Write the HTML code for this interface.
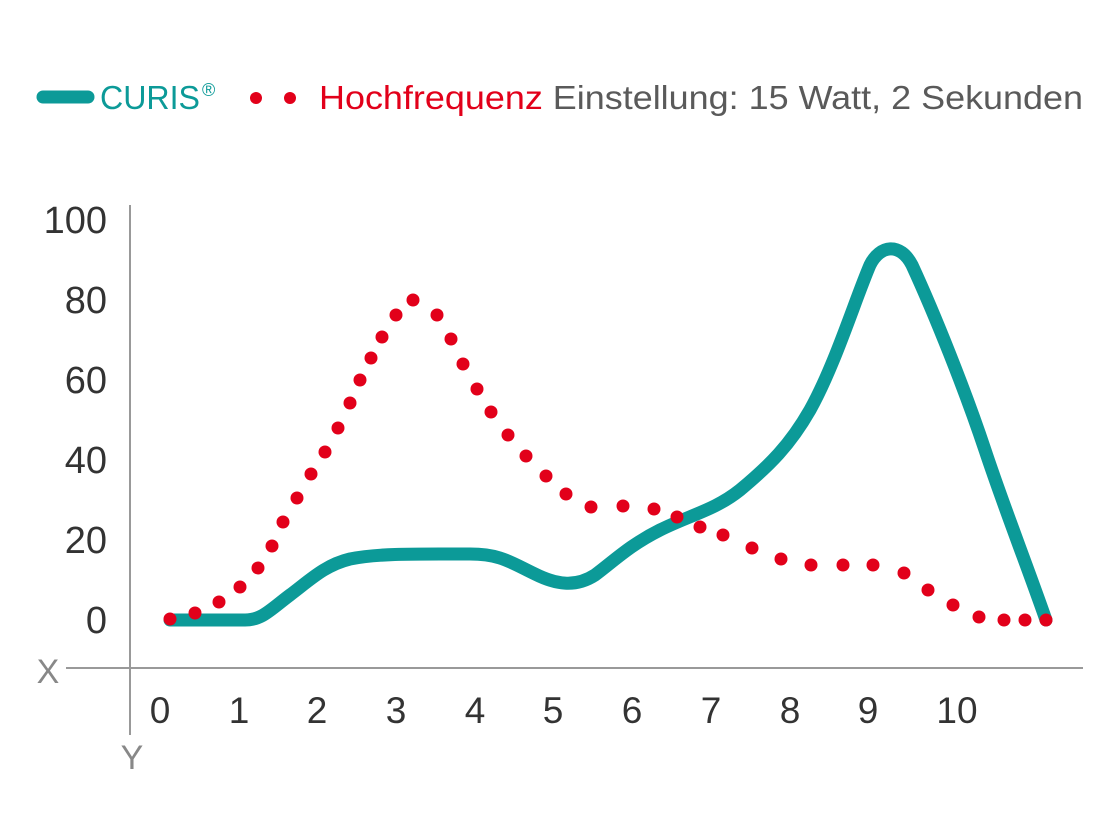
<!DOCTYPE html>
<html><head><meta charset="utf-8"><style>
html,body{margin:0;padding:0;background:#fff;}
svg{display:block;}
</style></head><body>
<svg width="1120" height="840" viewBox="0 0 1120 840" xmlns="http://www.w3.org/2000/svg" font-family="Liberation Sans, sans-serif">
<line x1="43" y1="97" x2="88" y2="97" stroke="#0c9a98" stroke-width="13" stroke-linecap="round"/>
<text x="100" y="109" font-size="33" fill="#0c9a98" textLength="100" lengthAdjust="spacingAndGlyphs">CURIS</text>
<text x="202" y="96" font-size="18" fill="#0c9a98">®</text>
<circle cx="256" cy="98" r="6" fill="#e2001a"/>
<circle cx="290" cy="98" r="6" fill="#e2001a"/>
<text x="319" y="109" font-size="33" fill="#e2001a" textLength="764" lengthAdjust="spacingAndGlyphs">Hochfrequenz <tspan fill="#5a5a5a">Einstellung: 15 Watt, 2 Sekunden</tspan></text>
<line x1="130" y1="205" x2="130" y2="735" stroke="#999" stroke-width="2"/>
<line x1="66" y1="668" x2="1083" y2="668" stroke="#999" stroke-width="2"/>
<g font-size="38" fill="#333" text-anchor="end">
<text x="107" y="233">100</text><text x="107" y="313">80</text><text x="107" y="393">60</text>
<text x="107" y="473">40</text><text x="107" y="553">20</text><text x="107" y="633">0</text>
</g>
<g font-size="37" fill="#333" text-anchor="middle">
<text x="160" y="723">0</text><text x="239" y="723">1</text><text x="317" y="723">2</text>
<text x="396" y="723">3</text><text x="475" y="723">4</text><text x="553" y="723">5</text>
<text x="632" y="723">6</text><text x="711" y="723">7</text><text x="790" y="723">8</text>
<text x="868" y="723">9</text><text x="957" y="723">10</text>
</g>
<text x="48" y="683" font-size="34" fill="#888" text-anchor="middle">X</text>
<text x="132" y="769" font-size="34" fill="#888" text-anchor="middle">Y</text>
<path d="M170,620 L245,620 C262,620 270,610 290,595 C310,580 325,565 350,559 C380,553 420,554 470,554 C500,554 510,562 535,574 C555,584 575,588 595,575 C615,560 630,545 660,530 C690,515 715,510 740,490 C770,465 790,445 810,410 C835,365 855,300 870,265 C880,245 900,242 912,265 C935,315 965,390 985,450 C1005,510 1025,560 1046,620" fill="none" stroke="#0c9a98" stroke-width="13" stroke-linecap="round" stroke-linejoin="round"/>
<g fill="#e2001a">
<circle cx="170" cy="619" r="6.5"/><circle cx="195" cy="613" r="6.5"/><circle cx="219" cy="602" r="6.5"/><circle cx="240" cy="587" r="6.5"/>
<circle cx="258" cy="568" r="6.5"/><circle cx="272" cy="546" r="6.5"/><circle cx="283" cy="522" r="6.5"/><circle cx="297" cy="498" r="6.5"/>
<circle cx="311" cy="474" r="6.5"/><circle cx="325" cy="452" r="6.5"/><circle cx="338" cy="428" r="6.5"/><circle cx="350" cy="403" r="6.5"/>
<circle cx="360" cy="380" r="6.5"/><circle cx="371" cy="358" r="6.5"/><circle cx="382" cy="337" r="6.5"/><circle cx="396" cy="315" r="6.5"/>
<circle cx="413" cy="300" r="6.5"/><circle cx="437" cy="315" r="6.5"/><circle cx="451" cy="339" r="6.5"/><circle cx="463" cy="364" r="6.5"/>
<circle cx="477" cy="389" r="6.5"/><circle cx="491" cy="412" r="6.5"/><circle cx="508" cy="435" r="6.5"/><circle cx="526" cy="456" r="6.5"/>
<circle cx="546" cy="476" r="6.5"/><circle cx="566" cy="494" r="6.5"/><circle cx="591" cy="507" r="6.5"/><circle cx="623" cy="506" r="6.5"/>
<circle cx="654" cy="509" r="6.5"/><circle cx="677" cy="517" r="6.5"/><circle cx="700" cy="527" r="6.5"/><circle cx="723" cy="535" r="6.5"/>
<circle cx="752" cy="548" r="6.5"/><circle cx="781" cy="559" r="6.5"/><circle cx="811" cy="565" r="6.5"/><circle cx="843" cy="565" r="6.5"/>
<circle cx="873" cy="565" r="6.5"/><circle cx="904" cy="573" r="6.5"/><circle cx="928" cy="590" r="6.5"/><circle cx="953" cy="605" r="6.5"/>
<circle cx="979" cy="617" r="6.5"/><circle cx="1004" cy="620" r="6.5"/><circle cx="1025" cy="620" r="6.5"/><circle cx="1046" cy="620" r="6.5"/>
</g>
</svg>
</body></html>
